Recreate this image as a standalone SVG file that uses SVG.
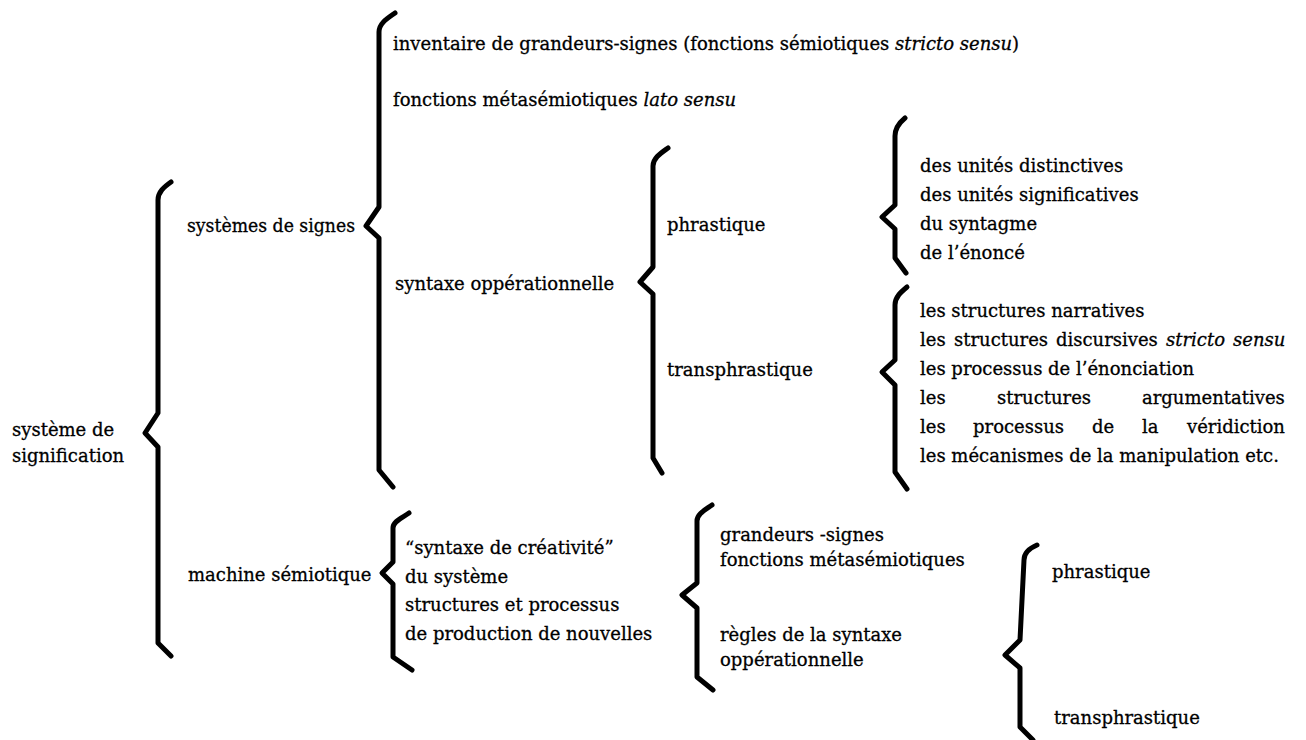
<svg xmlns="http://www.w3.org/2000/svg" width="1306" height="740" viewBox="0 0 1306 740">
<style>
  text { font-family: "DejaVu Serif", "Liberation Serif", serif; font-size: 18px; fill: #000; stroke: #000; stroke-width: 0.3px; }
  .it { font-style: italic; }
  .brace { fill: none; stroke: #000; stroke-width: 5; stroke-linecap: round; stroke-linejoin: round; }
</style>
<rect width="1306" height="740" fill="#fff"/>
<g id="connectors">
  <path class="brace" d="M171,182 C164,187 158,192 158,200 L158,413 L145,433 L158,447 L158,643 L171,656"/>
  <path class="brace" d="M395,13 C388,18 379,23 379,32 L379,207 L366,226 L379,238 L379,470 L393,487"/>
  <path class="brace" d="M668,148 C661,153 653,158 653,166 L653,267 L640,282 L653,294 L653,458 L662,473"/>
  <path class="brace" d="M905,118 C899,123 895,128 895,136 L895,205 L882,217 L895,229 L895,258 L906,273"/>
  <path class="brace" d="M907,287 C901,292 895,297 895,305 L895,360 L882,372 L895,385 L895,472 L907,489"/>
  <path class="brace" d="M409,513 C402,518 393,521 393,528 L393,562 L382,573 L393,584 L393,657 L412,670"/>
  <path class="brace" d="M712,505 C705,510 697,514 697,521 L697,583 L682,595 L697,608 L697,677 L713,690"/>
  <path class="brace" d="M1037,545 C1030,548 1024,552 1024,560 L1020,640 L1005,655 L1020,668 L1020,727 L1033,740"/>
</g>
<g id="systeme-signification">
  <text x="12" y="436">système de</text>
  <text x="12" y="462">signification</text>
</g>
<g id="systemes-signes"><text x="187" y="232" textLength="168" lengthAdjust="spacingAndGlyphs">systèmes de signes</text></g>
<g id="inventaire"><text x="393" y="50">inventaire de grandeurs-signes (fonctions sémiotiques <tspan class="it">stricto sensu</tspan>)</text></g>
<g id="fonctions-meta"><text x="393" y="106">fonctions métasémiotiques <tspan class="it">lato sensu</tspan></text></g>
<g id="syntaxe-op"><text x="395" y="290">syntaxe oppérationnelle</text></g>
<g id="phrastique-1"><text x="667" y="231">phrastique</text></g>
<g id="transphrastique-1"><text x="667" y="376">transphrastique</text></g>
<g id="unites">
  <text x="920" y="172">des unités distinctives</text>
  <text x="920" y="201">des unités significatives</text>
  <text x="920" y="230">du syntagme</text>
  <text x="920" y="259">de l’énoncé</text>
</g>
<g id="structures">
  <text x="920" y="317">les structures narratives</text>
  <text y="346"><tspan x="920">les</tspan><tspan x="954">structures</tspan><tspan x="1056">discursives</tspan><tspan x="1166" class="it">stricto</tspan><tspan x="1233" class="it">sensu</tspan></text>
  <text x="920" y="375">les processus de l’énonciation</text>
  <text y="404"><tspan x="920">les</tspan><tspan x="997">structures</tspan><tspan x="1142">argumentatives</tspan></text>
  <text y="433"><tspan x="920">les</tspan><tspan x="973">processus</tspan><tspan x="1092">de</tspan><tspan x="1142">la</tspan><tspan x="1187">véridiction</tspan></text>
  <text x="920" y="462">les mécanismes de la manipulation etc.</text>
</g>
<g id="machine-semiotique"><text x="188" y="581">machine sémiotique</text></g>
<g id="syntaxe-creativite">
  <text x="405" y="554">“syntaxe de créativité”</text>
  <text x="405" y="583">du système</text>
  <text x="405" y="611">structures et processus</text>
  <text x="405" y="640">de production de nouvelles</text>
</g>
<g id="grandeurs">
  <text x="720" y="541">grandeurs -signes</text>
  <text x="720" y="566">fonctions métasémiotiques</text>
</g>
<g id="regles">
  <text x="720" y="641">règles de la syntaxe</text>
  <text x="720" y="666">oppérationnelle</text>
</g>
<g id="phrastique-2"><text x="1052" y="578">phrastique</text></g>
<g id="transphrastique-2"><text x="1054" y="724">transphrastique</text></g>
</svg>
